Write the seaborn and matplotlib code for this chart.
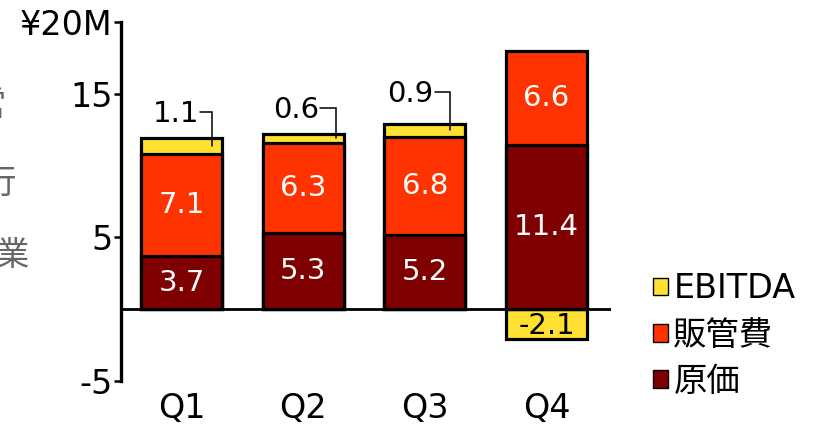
import matplotlib
matplotlib.use("Agg")
import matplotlib.pyplot as plt
from matplotlib.patches import Patch
import seaborn as sns
import pandas as pd

quarters = ["Q1", "Q2", "Q3", "Q4"]
cost = [3.7, 5.3, 5.2, 11.4]        # 原価
sga = [7.1, 6.3, 6.8, 6.6]          # 販管費
ebitda = [1.1, 0.6, 0.9, -2.1]      # EBITDA

series_names = ["EBITDA", "販管費", "原価"]
colors = {"EBITDA": "#FFE033", "販管費": "#FF3300", "原価": "#7F0000"}

ytick_values = [-5, 5, 15, 20]
ytick_labels = ["-5", "5", "15", "¥20M"]

sns.set_style("white")
plt.rcParams["font.family"] = ["DejaVu Sans", "Noto Sans CJK JP"]
plt.rcParams["text.color"] = "black"
plt.rcParams["xtick.color"] = "black"
plt.rcParams["ytick.color"] = "black"

df = pd.DataFrame({"quarter": quarters, "cost": cost, "sga": sga, "ebitda": ebitda})
df["sga_top"] = df["cost"] + df["sga"]
# positive EBITDA sits on top of the stack; negative EBITDA hangs below zero
df["ebitda_top"] = [s + e if e > 0 else e for s, e in zip(df["sga_top"], df["ebitda"])]

fig = plt.figure(figsize=(8.18, 4.28), dpi=100)
ax = fig.add_axes([121 / 818, 47 / 428, (611 - 121) / 818, 359 / 428])

W = 0.666
bar_kw = dict(ax=ax, width=W, edgecolor="black", linewidth=2.3, order=quarters)
sns.barplot(data=df, x="quarter", y="ebitda_top", color=colors["EBITDA"], saturation=1, **bar_kw)
sns.barplot(data=df, x="quarter", y="sga_top", color=colors["販管費"], saturation=1, **bar_kw)
sns.barplot(data=df, x="quarter", y="cost", color=colors["原価"], saturation=1, **bar_kw)

ax.set_xlim(-0.5, 3.53)
ax.set_ylim(-5, 20)
ax.axhline(0, color="black", lw=2.0, zorder=5)

ax.set_yticks(ytick_values)
ax.set_yticklabels(ytick_labels)
ax.tick_params(axis="y", direction="out", length=5, width=1.8, colors="black",
               labelsize=24, pad=1, left=True)
ax.tick_params(axis="x", length=0, labelsize=24, pad=8, colors="black")
ax.set_xlabel("")
ax.set_ylabel("")
for side in ["top", "right", "bottom"]:
    ax.spines[side].set_visible(False)
ax.spines["left"].set_linewidth(2.4)
ax.spines["left"].set_color("black")
ax.grid(False)

LABEL_FS = 21
for i, row in df.iterrows():
    ax.text(i, row["cost"] / 2, f"{row['cost']:.1f}", ha="center", va="center",
            color="white", fontsize=LABEL_FS, zorder=6)
    ax.text(i, row["cost"] + row["sga"] / 2, f"{row['sga']:.1f}", ha="center",
            va="center", color="white", fontsize=LABEL_FS, zorder=6)
    if row["ebitda"] < 0:
        ax.text(i, row["ebitda"] / 2 - 0.15, f"{row['ebitda']:.1f}", ha="center",
                va="center", color="black", fontsize=LABEL_FS, zorder=6)

# callout labels for thin EBITDA segments
callouts = {0: (-0.05, 13.6, 0.25), 1: (-0.06, 13.9, 0.27), 2: (-0.12, 15.0, 0.205)}
for i, (dx, ly, cx) in callouts.items():
    e = df.loc[i, "ebitda"]
    top = df.loc[i, "sga_top"]
    ax.text(i + dx, ly, f"{e:.1f}", ha="center", va="center", color="black",
            fontsize=LABEL_FS, zorder=6)
    x0 = i + dx + 0.2
    ax.plot([x0, i + cx, i + cx], [ly + 0.1, ly + 0.1, top + e / 2],
            color="black", lw=1.1, zorder=7, solid_joinstyle="miter")

handles = [Patch(facecolor=colors[n], edgecolor="black", linewidth=1.0) for n in series_names]
fig.legend(handles, series_names, loc="upper left", bbox_to_anchor=(640 / 818, 1 - 259 / 428),
           frameon=False, fontsize=24, handlelength=0.45, handleheight=0.45,
           handletextpad=0.15, labelspacing=0.4, borderaxespad=0)

# vertical caption at the left edge of the page
for ch, xr, yc in [("営", 6, 105), ("行", 16, 183), ("業", 29, 255)]:
    fig.text(xr / 818, 1 - yc / 428, ch, ha="right", va="center", color="#666666",
             fontsize=24, family=["Noto Sans CJK JP"])

fig.savefig("out.png", dpi=100)
